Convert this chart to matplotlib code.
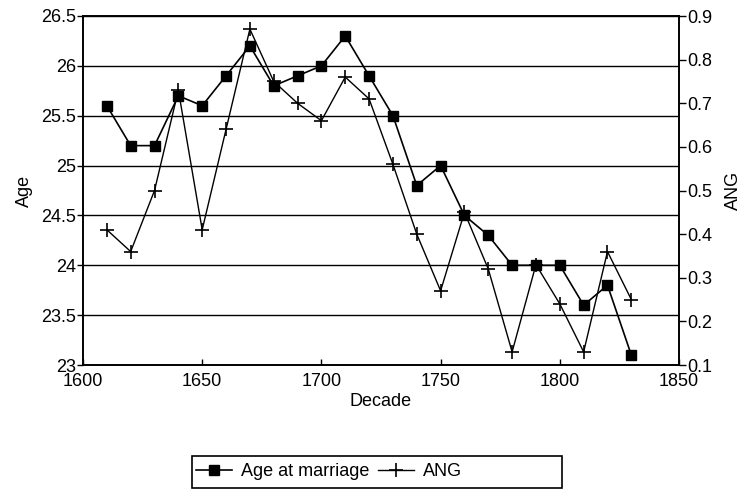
import matplotlib
matplotlib.use("Agg")
import matplotlib.pyplot as plt
from matplotlib.patches import Rectangle

decades = [1610, 1620, 1630, 1640, 1650, 1660, 1670, 1680, 1690, 1700, 1710, 1720,
           1730, 1740, 1750, 1760, 1770, 1780, 1790, 1800, 1810, 1820, 1830]
age_at_marriage = [25.6, 25.2, 25.2, 25.7, 25.6, 25.9, 26.2, 25.8, 25.9, 26.0, 26.3, 25.9,
                   25.5, 24.8, 25.0, 24.5, 24.3, 24.0, 24.0, 24.0, 23.6, 23.8, 23.1]
ang = [0.41, 0.36, 0.50, 0.73, 0.41, 0.64, 0.87, 0.75, 0.70, 0.66, 0.76, 0.71,
       0.56, 0.40, 0.27, 0.45, 0.32, 0.13, 0.33, 0.24, 0.13, 0.36, 0.25]
x_ticks = [1600, 1650, 1700, 1750, 1800, 1850]
age_ticks = [23, 23.5, 24, 24.5, 25, 25.5, 26, 26.5]
ang_ticks = [0.1, 0.2, 0.3, 0.4, 0.5, 0.6, 0.7, 0.8, 0.9]
age_tick_labels = ["23", "23.5", "24", "24.5", "25", "25.5", "26", "26.5"]

plt.rcParams['font.family'] = ['Liberation Sans', 'DejaVu Sans']
plt.rcParams['font.size'] = 13

fig = plt.figure(figsize=(7.41, 4.91), dpi=100)
ax = fig.add_axes([83/741, 1 - 365/491, (679-83)/741, (365-16)/491])
ax2 = ax.twinx()

ax.set_xlim(1600, 1850)
ax.set_ylim(23, 26.5)
ax2.set_ylim(0.1, 0.9)
ax.set_xticks(x_ticks)
ax.set_yticks(age_ticks)
ax.set_yticklabels(age_tick_labels)
ax2.set_yticks(ang_ticks)
ax2.set_yticklabels([f"{v:.1f}" for v in ang_ticks])

for y in age_ticks[1:]:
    ax.axhline(y, color='black', lw=1.0, zorder=1)

l1, = ax.plot(decades, age_at_marriage, color='black', lw=1.2, marker='s',
              markersize=7.5, markerfacecolor='black', zorder=3, label='Age at marriage')
l2, = ax2.plot(decades, ang, color='black', lw=1.0, marker='+', markersize=10,
               markeredgewidth=1.2, zorder=3, label='ANG')

ax.tick_params(axis='x', direction='in', length=4, width=1, pad=6)
ax.tick_params(axis='y', direction='out', length=4, width=1, pad=1)
ax2.tick_params(axis='y', direction='out', length=5, width=1, pad=1)
for a in (ax, ax2):
    for s in a.spines.values():
        s.set_linewidth(1.2)

ax.set_xlabel('Decade', labelpad=2)
ax.set_ylabel('Age', labelpad=6)
ax2.set_ylabel('ANG', labelpad=9)

fig.add_artist(Rectangle((192/741, 1 - 488/491), 370/741, 32/491,
                         transform=fig.transFigure, fill=False, lw=1.2,
                         edgecolor='black'))
leg = fig.legend(handles=[l1, l2], loc='center left',
                 bbox_to_anchor=(196/741, 1 - 472/491),
                 ncol=2, frameon=False, borderpad=0, handlelength=2.0,
                 handletextpad=0.5, columnspacing=0.45, borderaxespad=0,
                 fontsize=13)

fig.savefig('out.png', dpi=100)
